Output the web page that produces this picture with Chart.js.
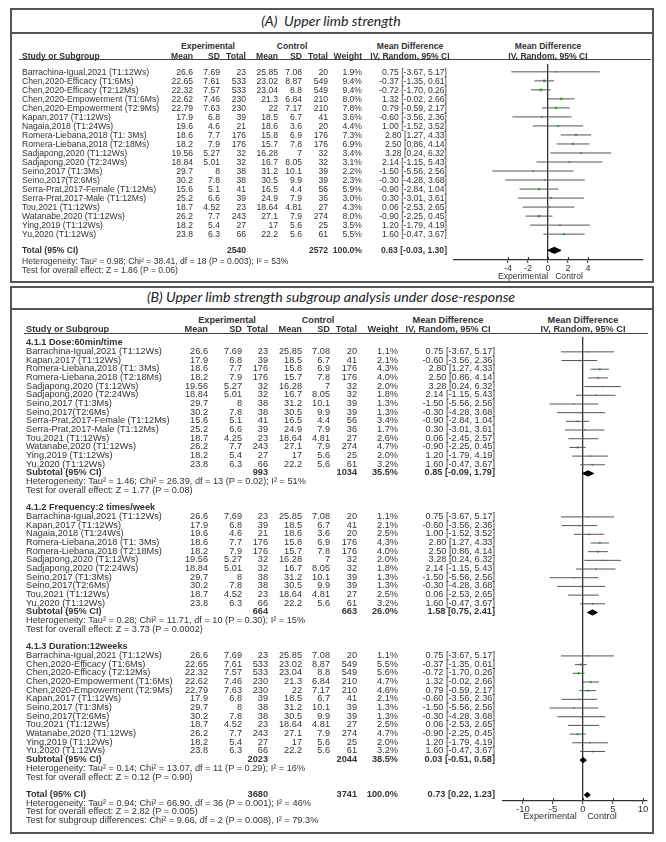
<!DOCTYPE html>
<html>
<head>
<meta charset="utf-8">
<script src="https://cdn.jsdelivr.net/npm/chart.js@4.4.1/dist/chart.umd.min.js"></script>
<style>
	body { margin: 0; background: #fff; }
	#page { position: relative; width: 666px; height: 842px; overflow: hidden; font-family: "Liberation Sans", Arial, sans-serif; color: #333; }
	.box { position: absolute; border: 2px solid #555; box-sizing: border-box; }
	.hr { position: absolute; background: #555; }
	.ttl { position: absolute; font-family: Lato, "Open Sans", sans-serif; font-style: italic; font-size: 14.2px; color: #222; white-space: nowrap; transform: translate(-50%, -50%); line-height: 1; }
	.t { position: absolute; white-space: nowrap; line-height: 1; }
	.a { font-size: 8.6px; }
	.b { font-size: 9.2px; }
	.bold { font-weight: bold; }
	canvas { position: absolute; left: 0; }
</style>
</head>
<body>
<div id="page">
	<div class="box" style="left:10px;top:8px;width:644px;height:275px;"></div>
	<div class="hr" style="left:10px;top:32px;width:644px;height:2px;"></div>
	<div class="ttl" style="left:331px;top:21px;">(A)&nbsp; Upper limb strength</div>
	<div class="box" style="left:10px;top:286px;width:644px;height:548px;"></div>
	<div class="hr" style="left:10px;top:308px;width:644px;height:2px;"></div>
	<div class="ttl" style="left:331px;top:297px;">(B) Upper limb strength subgroup analysis under dose-response</div>
	<canvas id="chartA" width="666" height="216" style="top:60px;"></canvas>
	<canvas id="chartB" width="666" height="484" style="top:333px;"></canvas>
</div>
<script>
// study table (panel A order, last entry = Tou variant used in subgroup 4.1.1)
const studyNames = [
	'Barrachina-Igual,2021 (T1:12Ws)', 'Chen,2020-Efficacy (T1:6Ms)', 'Chen,2020-Efficacy (T2:12Ms)',
	'Chen,2020-Empowerment (T1:6Ms)', 'Chen,2020-Empowerment (T2:9Ms)', 'Kapan,2017 (T1:12Ws)',
	'Nagaia,2018 (T1:24Ws)', 'Romera-Liebana,2018 (T1: 3Ms)', 'Romera-Liebana,2018 (T2:18Ms)',
	'Sadjapong,2020 (T1:12Ws)', 'Sadjapong,2020 (T2:24Ws)', 'Seino,2017 (T1:3Ms)', 'Seino,2017(T2:6Ms)',
	'Serra-Prat,2017-Female (T1:12Ms)', 'Serra-Prat,2017-Male (T1:12Ms)', 'Tou,2021 (T1:12Ws)',
	'Watanabe,2020 (T1:12Ws)', 'Ying,2019 (T1:12Ws)', 'Yu,2020 (T1:12Ws)', 'Tou,2021 (T1:12Ws)'
];
const expMean = [26.6, 22.65, 22.32, 22.62, 22.79, 17.9, 19.6, 18.6, 18.2, 19.56, 18.84, 29.7, 30.2, 15.6, 25.2, 18.7, 26.2, 18.2, 23.8, 18.7];
const expSD = [7.69, 7.61, 7.57, 7.46, 7.63, 6.8, 4.6, 7.7, 7.9, 5.27, 5.01, 8, 7.8, 5.1, 6.6, 4.52, 7.7, 5.4, 6.3, 4.25];
const expN = [23, 533, 533, 230, 230, 39, 21, 176, 176, 32, 32, 38, 38, 41, 39, 23, 243, 27, 66, 23];
const ctlMean = [25.85, 23.02, 23.04, 21.3, 22, 18.5, 18.6, 15.8, 15.7, 16.28, 16.7, 31.2, 30.5, 16.5, 24.9, 18.64, 27.1, 17, 22.2, 18.64];
const ctlSD = [7.08, 8.87, 8.8, 6.84, 7.17, 6.7, 3.6, 6.9, 7.8, 7, 8.05, 10.1, 9.9, 4.4, 7.9, 4.81, 7.9, 5.6, 5.6, 4.81];
const ctlN = [20, 549, 549, 210, 210, 41, 20, 176, 176, 32, 32, 39, 39, 56, 36, 27, 274, 25, 61, 27];
const meanDiff = [0.75, -0.37, -0.72, 1.32, 0.79, -0.60, 1.00, 2.80, 2.50, 3.28, 2.14, -1.50, -0.30, -0.90, 0.30, 0.06, -0.90, 1.20, 1.60, 0.06];
const ciLow = [-3.67, -1.35, -1.70, -0.02, -0.59, -3.56, -1.52, 1.27, 0.86, 0.24, -1.15, -5.56, -4.28, -2.84, -3.01, -2.53, -2.25, -1.79, -0.47, -2.45];
const ciHigh = [5.17, 0.61, 0.26, 2.66, 2.17, 2.36, 3.52, 4.33, 4.14, 6.32, 5.43, 2.56, 3.68, 1.04, 3.61, 2.65, 0.45, 4.19, 3.67, 2.57];

// panel A
const rowsA = [0, 1, 2, 3, 4, 5, 6, 7, 8, 9, 10, 11, 12, 13, 14, 15, 16, 17, 18];
const weightA = [1.9, 9.4, 9.4, 8.0, 7.8, 3.6, 4.4, 7.3, 6.9, 3.4, 3.1, 2.2, 2.3, 5.9, 3.0, 4.3, 8.0, 3.5, 5.5];
const totalA = [2540, 2572, 100.0, 0.63, -0.03, 1.30];
const notesA = ['Heterogeneity: Tau² = 0.98; Chi² = 38.41, df = 18 (P = 0.003); I² = 53%', 'Test for overall effect: Z = 1.86 (P = 0.06)'];
const ticksA = [-4, -2, 0, 2, 4];

// panel B subgroups
const groupTitles = ['4.1.1 Dose:60min/time', '4.1.2 Frequency:2 times/week', '4.1.3 Duration:12weeks'];
const group1 = [0, 5, 7, 8, 9, 10, 11, 12, 13, 14, 19, 16, 17, 18];
const group2 = [0, 5, 6, 7, 8, 9, 10, 11, 12, 15, 18];
const group3 = [0, 1, 2, 3, 4, 5, 11, 12, 15, 16, 17, 18];
const weight1 = [1.1, 2.1, 4.3, 4.0, 2.0, 1.8, 1.3, 1.3, 3.4, 1.7, 2.6, 4.7, 2.0, 3.2];
const weight2 = [1.1, 2.1, 2.5, 4.3, 4.0, 2.0, 1.8, 1.3, 1.3, 2.5, 3.2];
const weight3 = [1.1, 5.5, 5.6, 4.7, 4.6, 2.1, 1.3, 1.3, 2.5, 4.7, 2.0, 3.2];
const subExpN = [993, 664, 2023];
const subCtlN = [1034, 663, 2044];
const subWeight = [35.5, 26.0, 38.5];
const subMD = [0.85, 1.58, 0.03];
const subLow = [-0.09, 0.75, -0.51];
const subHigh = [1.79, 2.41, 0.58];
const subNotes = [
	['Heterogeneity: Tau² = 1.46; Chi² = 26.39, df = 13 (P = 0.02); I² = 51%', 'Test for overall effect: Z = 1.77 (P = 0.08)'],
	['Heterogeneity: Tau² = 0.28; Chi² = 11.71, df = 10 (P = 0.30); I² = 15%', 'Test for overall effect: Z = 3.73 (P = 0.0002)'],
	['Heterogeneity: Tau² = 0.14; Chi² = 13.07, df = 11 (P = 0.29); I² = 16%', 'Test for overall effect: Z = 0.12 (P = 0.90)']
];
const totalB = [3680, 3741, 100.0, 0.73, 0.22, 1.23];
const notesB = ['Heterogeneity: Tau² = 0.94; Chi² = 66.90, df = 36 (P = 0.001); I² = 46%', 'Test for overall effect: Z = 2.82 (P = 0.005)', 'Test for subgroup differences: Chi² = 9.66, df = 2 (P = 0.008), I² = 79.3%'];
const ticksB = [-10, -5, 0, 5, 10];

const page = document.getElementById('page');
const FONT = '"Liberation Sans", Arial, sans-serif';
Chart.defaults.animation = false;

function txt(s, x, y, align, cls) {
	const d = document.createElement('div');
	d.className = 't ' + cls;
	d.textContent = s;
	d.style.left = x + 'px';
	d.style.top = y + 'px';
	d.style.transform = align === 'r' ? 'translate(-100%,-50%)' : align === 'c' ? 'translate(-50%,-50%)' : 'translateY(-50%)';
	page.appendChild(d);
}
const fmtCI = (m, l, h) => m.toFixed(2) + ' [' + l.toFixed(2) + ', ' + h.toFixed(2) + ']';

// tick marks above the axis too (RevMan style crossing ticks)
const crossTicks = {
	id: 'crossTicks',
	afterDraw(chart) {
		const sx = chart.scales.x, ctx = chart.ctx, yb = chart.chartArea.bottom;
		ctx.save();
		ctx.strokeStyle = '#333';
		ctx.lineWidth = 1;
		sx.ticks.forEach(t => {
			const px = Math.round(sx.getPixelForValue(t.value)) + 0.5;
			ctx.beginPath();
			ctx.moveTo(px, yb - 3);
			ctx.lineTo(px, yb);
			ctx.stroke();
		});
		ctx.restore();
	}
};

// build forest datasets from rows: {row, md, lo, hi, w} and diamonds: {row, md, lo, hi}
function forestData(studies, diamonds, hh) {
	const sets = [];
	studies.forEach(s => sets.push({
		data: [{x: s.lo, y: s.row}, {x: s.hi, y: s.row}],
		showLine: true, borderColor: '#555', borderWidth: 1, pointRadius: 0
	}));
	sets.push({
		data: studies.map(s => ({x: s.md, y: s.row})),
		pointStyle: 'rect', backgroundColor: '#33dd33', borderWidth: 0,
		pointRadius: studies.map(s => 0.6 + Math.sqrt(s.w) * 0.42)
	});
	diamonds.forEach(d => sets.push({
		data: [{x: d.lo, y: d.row}, {x: d.md, y: d.row - hh}, {x: d.hi, y: d.row}, {x: d.md, y: d.row + hh}, {x: d.lo, y: d.row}],
		showLine: true, fill: 'shape', borderColor: '#000', backgroundColor: '#000', borderWidth: 1, pointRadius: 0
	}));
	return sets;
}

function forestChart(id, sets, xr, yr, ticks, padL, padR, fs) {
	return new Chart(document.getElementById(id), {
		type: 'scatter',
		data: {datasets: sets},
		plugins: [crossTicks],
		options: {
			responsive: false,
			devicePixelRatio: 1,
			layout: {padding: {left: padL, right: padR, top: 0, bottom: 0}},
			plugins: {legend: {display: false}, tooltip: {enabled: false}},
			scales: {
				x: {
					min: xr[0], max: xr[1],
					afterBuildTicks: s => { s.ticks = ticks.map(v => ({value: v})); },
					afterFit: s => { s.height = 16; },
					grid: {
						color: c => (c.tick && c.tick.value === 0) ? '#333' : 'rgba(0,0,0,0)',
						lineWidth: 1.3, tickLength: 3, tickColor: '#333', tickWidth: 1
					},
					border: {display: true, color: '#333', width: 1.3},
					ticks: {color: '#333', padding: 0, maxRotation: 0, autoSkip: false, font: {family: FONT, size: fs}}
				},
				y: {display: false, reverse: true, min: yr[0], max: yr[1]}
			}
		}
	});
}

// ---------- panel A ----------
const studiesA = rowsA.map((k, i) => ({row: i, md: meanDiff[k], lo: ciLow[k], hi: ciHigh[k], w: weightA[i]}));
const totRowA = 19.8;
const chartA = forestChart('chartA',
	forestData(studiesA, [{row: totRowA, md: totalA[3], lo: totalA[4], hi: totalA[5]}], 0.34),
	[-9.4, 9.5], [-0.87, 20.87], ticksA, 454, 23, 9);
const yA = r => 60 + chartA.scales.y.getPixelForValue(r);
const colA = [193, 220, 246, 278, 302, 328, 362, 447];

txt('Experimental', 208, 46, 'c', 'a bold');
txt('Control', 292, 46, 'c', 'a bold');
txt('Mean Difference', 410, 46, 'c', 'a bold');
txt('Mean Difference', 548, 46, 'c', 'a bold');
txt('Study or Subgroup', 22, 56, 'l', 'a bold');
['Mean', 'SD', 'Total', 'Mean', 'SD', 'Total', 'Weight'].forEach((h, i) => txt(h, colA[i], 56, 'r', 'a bold'));
txt('IV, Random, 95% CI', 410, 56, 'c', 'a bold');
txt('IV, Random, 95% CI', 548, 56, 'c', 'a bold');
const ulA = document.createElement('div');
ulA.className = 'hr'; ulA.style.cssText = 'left:19px;top:59px;width:632px;height:1.3px;background:#444;';
page.appendChild(ulA);

rowsA.forEach((k, i) => {
	const y = yA(i);
	txt(studyNames[k], 22, y, 'l', 'a');
	[expMean[k], expSD[k], expN[k], ctlMean[k], ctlSD[k], ctlN[k]].forEach((v, j) => txt(String(v), colA[j], y, 'r', 'a'));
	txt(weightA[i].toFixed(1) + '%', colA[6], y, 'r', 'a');
	txt(fmtCI(meanDiff[k], ciLow[k], ciHigh[k]), colA[7], y, 'r', 'a');
});
let y = yA(totRowA);
txt('Total (95% CI)', 22, y, 'l', 'a bold');
txt(String(totalA[0]), colA[2], y, 'r', 'a bold');
txt(String(totalA[1]), colA[5], y, 'r', 'a bold');
txt(totalA[2].toFixed(1) + '%', colA[6], y, 'r', 'a bold');
txt(fmtCI(totalA[3], totalA[4], totalA[5]), colA[7], y, 'r', 'a bold');
notesA.forEach((n, i) => txt(n, 22, yA(21 + i), 'l', 'a'));
txt('Experimental', 523, 276, 'c', 'a');
txt('Control', 569, 276, 'c', 'a');

// ---------- panel B ----------
const groups = [group1, group2, group3];
const weightsB = [weight1, weight2, weight3];
const studiesB = [], diamondsB = [], layoutB = [];
let r = -1;
groups.forEach((g, gi) => {
	layoutB.push({kind: 'head', row: r, gi: gi});
	r++;
	g.forEach((k, i) => {
		studiesB.push({row: r, md: meanDiff[k], lo: ciLow[k], hi: ciHigh[k], w: weightsB[gi][i]});
		layoutB.push({kind: 'study', row: r, k: k, w: weightsB[gi][i]});
		r++;
	});
	diamondsB.push({row: r, md: subMD[gi], lo: subLow[gi], hi: subHigh[gi]});
	layoutB.push({kind: 'sub', row: r, gi: gi});
	r += 4;
});
const totRowB = r;
diamondsB.push({row: totRowB, md: totalB[3], lo: totalB[4], hi: totalB[5]});

const chartB = forestChart('chartB', forestData(studiesB, diamondsB, 0.3),
	[-13.33, 10.67], [-1.71, 51.7], ticksB, 503, 19, 9.5);
const yB = v => 333 + chartB.scales.y.getPixelForValue(v);
const colB = [208, 242, 268, 302, 330, 357, 398, 495];

txt('Experimental', 227, 321, 'c', 'b bold');
txt('Control', 318, 321, 'c', 'b bold');
txt('Mean Difference', 448, 321, 'c', 'b bold');
txt('Mean Difference', 583, 321, 'c', 'b bold');
txt('Study or Subgroup', 26, 330, 'l', 'b bold');
['Mean', 'SD', 'Total', 'Mean', 'SD', 'Total', 'Weight'].forEach((h, i) => txt(h, colB[i], 330, 'r', 'b bold'));
txt('IV, Random, 95% CI', 448, 330, 'c', 'b bold');
txt('IV, Random, 95% CI', 583, 330, 'c', 'b bold');
const ulB = document.createElement('div');
ulB.className = 'hr'; ulB.style.cssText = 'left:24px;top:332.5px;width:624px;height:1.3px;background:#444;';
page.appendChild(ulB);

layoutB.forEach(e => {
	const y = yB(e.row);
	if (e.kind === 'head') {
		txt(groupTitles[e.gi], 26, y, 'l', 'b bold');
	} else if (e.kind === 'study') {
		const k = e.k;
		txt(studyNames[k], 26, y, 'l', 'b');
		[expMean[k], expSD[k], expN[k], ctlMean[k], ctlSD[k], ctlN[k]].forEach((v, j) => txt(String(v), colB[j], y, 'r', 'b'));
		txt(e.w.toFixed(1) + '%', colB[6], y, 'r', 'b');
		txt(fmtCI(meanDiff[k], ciLow[k], ciHigh[k]), colB[7], y, 'r', 'b');
	} else {
		const gi = e.gi;
		txt('Subtotal (95% CI)', 26, y, 'l', 'b bold');
		txt(String(subExpN[gi]), colB[2], y, 'r', 'b bold');
		txt(String(subCtlN[gi]), colB[5], y, 'r', 'b bold');
		txt(subWeight[gi].toFixed(1) + '%', colB[6], y, 'r', 'b bold');
		txt(fmtCI(subMD[gi], subLow[gi], subHigh[gi]), colB[7], y, 'r', 'b bold');
		subNotes[gi].forEach((n, i) => txt(n, 26, yB(e.row + 1 + i), 'l', 'b'));
	}
});
y = yB(totRowB);
txt('Total (95% CI)', 26, y, 'l', 'b bold');
txt(String(totalB[0]), colB[2], y, 'r', 'b bold');
txt(String(totalB[1]), colB[5], y, 'r', 'b bold');
txt(totalB[2].toFixed(1) + '%', colB[6], y, 'r', 'b bold');
txt(fmtCI(totalB[3], totalB[4], totalB[5]), colB[7], y, 'r', 'b bold');
notesB.forEach((n, i) => txt(n, 26, yB(totRowB + 1 + i), 'l', 'b'));
txt('Experimental', 550, 817, 'c', 'b');
txt('Control', 602, 817, 'c', 'b');
</script>
</body>
</html>
